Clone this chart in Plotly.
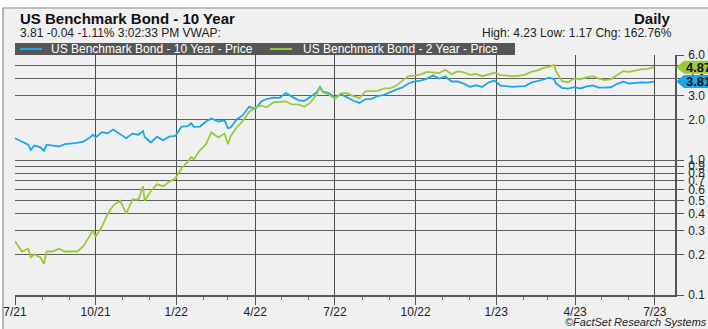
import math
import plotly.graph_objects as go

# Weekly closing yields (%), July 2021 - June 2023, with a few intraweek extremes
dates = [
    "2021-07-01", "2021-07-09", "2021-07-16", "2021-07-19", "2021-07-23", "2021-07-30",
    "2021-08-03", "2021-08-06", "2021-08-13", "2021-08-20", "2021-08-27",
    "2021-09-03", "2021-09-10", "2021-09-17", "2021-09-24", "2021-09-28",
    "2021-10-01", "2021-10-08", "2021-10-15", "2021-10-21", "2021-10-29",
    "2021-11-05", "2021-11-12", "2021-11-19", "2021-11-24", "2021-11-26",
    "2021-12-03", "2021-12-10", "2021-12-17", "2021-12-24", "2021-12-31",
    "2022-01-07", "2022-01-14", "2022-01-18", "2022-01-21", "2022-01-28",
    "2022-02-04", "2022-02-10", "2022-02-18", "2022-02-25", "2022-03-01",
    "2022-03-04", "2022-03-11", "2022-03-18", "2022-03-25", "2022-04-01",
    "2022-04-08", "2022-04-14", "2022-04-22", "2022-04-29", "2022-05-06",
    "2022-05-13", "2022-05-20", "2022-05-27", "2022-06-03", "2022-06-10",
    "2022-06-14", "2022-06-17", "2022-06-24", "2022-07-01", "2022-07-08",
    "2022-07-15", "2022-07-22", "2022-07-29", "2022-08-05", "2022-08-12",
    "2022-08-19", "2022-08-26", "2022-09-02", "2022-09-09", "2022-09-16",
    "2022-09-23", "2022-09-30", "2022-10-07", "2022-10-14", "2022-10-21",
    "2022-10-28", "2022-11-04", "2022-11-11", "2022-11-18", "2022-11-25",
    "2022-12-02", "2022-12-09", "2022-12-16", "2022-12-23", "2022-12-30",
    "2023-01-06", "2023-01-13", "2023-01-20", "2023-01-27", "2023-02-03",
    "2023-02-10", "2023-02-17", "2023-02-24", "2023-03-02", "2023-03-08",
    "2023-03-10", "2023-03-17", "2023-03-24", "2023-03-31", "2023-04-07",
    "2023-04-14", "2023-04-21", "2023-04-28", "2023-05-05", "2023-05-12",
    "2023-05-19", "2023-05-26", "2023-06-02", "2023-06-09", "2023-06-16",
    "2023-06-23", "2023-06-30",
]

ten_year = [
    1.45, 1.36, 1.30, 1.19, 1.28, 1.24,
    1.17, 1.30, 1.28, 1.26, 1.31,
    1.32, 1.34, 1.37, 1.46, 1.54,
    1.47, 1.61, 1.58, 1.68, 1.55,
    1.45, 1.57, 1.54, 1.64, 1.48,
    1.35, 1.49, 1.40, 1.49, 1.51,
    1.77, 1.78, 1.87, 1.76, 1.77,
    1.93, 2.03, 1.93, 1.97, 1.72,
    1.74, 2.00, 2.15, 2.48, 2.39,
    2.72, 2.83, 2.90, 2.89, 3.13,
    2.93, 2.78, 2.74, 2.94, 3.16,
    3.48, 3.23, 3.13, 2.89, 3.08,
    2.92, 2.75, 2.65, 2.83, 2.84,
    2.98, 3.04, 3.19, 3.32, 3.45,
    3.69, 3.83, 3.88, 4.01, 4.23,
    4.01, 4.16, 3.82, 3.83, 3.68,
    3.49, 3.58, 3.48, 3.75, 3.88,
    3.56, 3.51, 3.48, 3.51, 3.53,
    3.74, 3.82, 3.95, 4.07, 3.98,
    3.70, 3.43, 3.38, 3.47, 3.39,
    3.51, 3.57, 3.44, 3.44, 3.46,
    3.67, 3.80, 3.69, 3.74, 3.76,
    3.74, 3.81,
]

two_year = [
    0.25, 0.21, 0.22, 0.19, 0.20, 0.19,
    0.17, 0.21, 0.21, 0.22, 0.21,
    0.21, 0.21, 0.23, 0.27, 0.30,
    0.27, 0.32, 0.40, 0.46, 0.50,
    0.40, 0.51, 0.51, 0.64, 0.50,
    0.59, 0.66, 0.64, 0.69, 0.73,
    0.87, 0.97, 1.05, 1.01, 1.18,
    1.31, 1.60, 1.47, 1.57, 1.31,
    1.50, 1.75, 1.95, 2.27, 2.44,
    2.53, 2.46, 2.68, 2.71, 2.72,
    2.58, 2.58, 2.48, 2.66, 3.06,
    3.43, 3.18, 3.06, 2.84, 3.12,
    3.13, 2.97, 2.88, 3.24, 3.24,
    3.25, 3.39, 3.39, 3.56, 3.87,
    4.20, 4.22, 4.31, 4.50, 4.48,
    4.41, 4.66, 4.33, 4.53, 4.47,
    4.28, 4.34, 4.18, 4.31, 4.43,
    4.25, 4.22, 4.18, 4.21, 4.29,
    4.50, 4.62, 4.81, 4.89, 5.07,
    4.59, 3.84, 3.77, 4.03, 3.97,
    4.09, 4.18, 4.01, 3.91, 3.98,
    4.28, 4.56, 4.50, 4.60, 4.72,
    4.74, 4.87,
]

x_tick_vals = ["2021-07-01", "2021-10-01", "2022-01-01", "2022-04-01", "2022-07-01",
               "2022-10-01", "2023-01-01", "2023-04-01", "2023-07-01"]
x_tick_text = ["7/21", "10/21", "1/22", "4/22", "7/22", "10/22", "1/23", "4/23", "7/23"]
y_tick_vals = [0.1, 0.2, 0.3, 0.4, 0.5, 0.6, 0.7, 0.8, 0.9, 1.0, 2.0, 3.0, 4.0, 5.0, 6.0]
y_tick_text = [f"{v:.1f}" for v in y_tick_vals]

series_names = ["US Benchmark Bond - 10 Year - Price", "US Benchmark Bond - 2 Year - Price"]
last_values = [ten_year[-1], two_year[-1]]

BLUE = "#1aa7e8"
GREEN = "#9cc93a"
FONT = "Liberation Sans, Arial, sans-serif"

W, H = 708, 329
ML, MR, MT, MB = 15, 33, 55, 34
PW, PH = W - ML - MR, H - MT - MB


def px(x):
    return (x - ML) / PW


def py(y):
    return (H - MB - y) / PH


fig = go.Figure()
fig.add_trace(go.Scatter(x=dates, y=ten_year, mode="lines", name=series_names[0],
                         line=dict(color=BLUE, width=1.8), showlegend=False))
fig.add_trace(go.Scatter(x=dates, y=two_year, mode="lines", name=series_names[1],
                         line=dict(color=GREEN, width=1.8), showlegend=False))

shapes = []
# outer panel frame
shapes.append(dict(type="rect", xref="paper", yref="paper", x0=px(3), x1=px(740),
                   y0=py(340), y1=py(8), line=dict(color="#8a8a8a", width=1.2),
                   fillcolor="#f0f0f0", layer="below"))
# legend bar
shapes.append(dict(type="rect", xref="paper", yref="paper", x0=px(15), x1=px(515),
                   y0=py(55), y1=py(43), line=dict(width=0), fillcolor="#565656",
                   layer="above"))
for (x0, x1), color in [((20, 42), BLUE), ((270, 292), GREEN)]:
    shapes.append(dict(type="line", xref="paper", yref="paper", x0=px(x0), x1=px(x1),
                       y0=py(49), y1=py(49), line=dict(color=color, width=2),
                       layer="above"))
# last-value price tags on the right axis
for val, color in zip(last_values, [BLUE, GREEN]):
    shapes.append(dict(type="path", xref="paper", yref="y", xsizemode="pixel",
                       ysizemode="pixel", xanchor=1, yanchor=val,
                       path="M1,0 L9,6.5 L60,6.5 L60,-6.5 L9,-6.5 Z",
                       fillcolor=color, line=dict(width=0), layer="above"))

annotations = [
    dict(text="<b>US Benchmark Bond - 10 Year</b>", x=px(18), y=py(18), xanchor="left",
         yanchor="middle", font=dict(size=15, color="#111")),
    dict(text="3.81 -0.04 -1.11% 3:02:33 PM VWAP:", x=px(18), y=py(33), xanchor="left",
         yanchor="middle", font=dict(size=12, color="#222")),
    dict(text="<b>Daily</b>", x=px(673), y=py(18), xanchor="right", yanchor="middle",
         font=dict(size=15, color="#111")),
    dict(text="High: 4.23 Low: 1.17 Chg: 162.76%", x=px(674), y=py(33), xanchor="right",
         yanchor="middle", font=dict(size=12, color="#222")),
    dict(text=series_names[0], x=px(49), y=py(49), xanchor="left", yanchor="middle",
         font=dict(size=12, color="#ffffff")),
    dict(text=series_names[1], x=px(301), y=py(49), xanchor="left", yanchor="middle",
         font=dict(size=12, color="#ffffff")),
    dict(text="<i>©FactSet Research Systems</i>", x=px(563), y=py(322), xanchor="left",
         yanchor="middle", font=dict(size=11, color="#222")),
]
for a in annotations:
    a.update(xref="paper", yref="paper", showarrow=False)
for val in last_values:
    annotations.append(dict(text=f"<b>{val:.2f}</b>", xref="paper", yref="y", x=1,
                            y=math.log10(val), xanchor="left", yanchor="middle",
                            xshift=9, showarrow=False, font=dict(size=13, color="#111")))

fig.update_layout(
    width=W, height=H,
    margin=dict(l=ML, r=MR, t=MT, b=MB, pad=0, autoexpand=False),
    paper_bgcolor="#ffffff", plot_bgcolor="#f0f0f0",
    font=dict(family=FONT, size=12, color="#222"),
    shapes=shapes, annotations=annotations, showlegend=False,
    xaxis=dict(
        type="date", range=["2021-07-01", "2023-07-24"], automargin=False,
        tickvals=x_tick_vals, ticktext=x_tick_text,
        showgrid=True, gridcolor="#4d4d4d", gridwidth=1.3,
        showline=True, linecolor="#555", linewidth=1.5,
        ticks="outside", ticklen=8, tickcolor="#555", tickwidth=1.3,
        ticklabelstandoff=-3,
        tickfont=dict(size=12, color="#222"),
        minor=dict(dtick="M1", tick0="2021-07-01", ticks="outside", ticklen=3,
                   tickcolor="#777", showgrid=False),
        zeroline=False, fixedrange=True,
    ),
    yaxis=dict(
        type="log", range=[math.log10(0.1), math.log10(6.0)], side="right",
        automargin=False,
        tickvals=y_tick_vals, ticktext=y_tick_text,
        showgrid=True, gridcolor="#5e5e5e", gridwidth=1,
        showline=True, linecolor="#555", linewidth=1.5,
        ticks="outside", ticklen=7, tickcolor="#555", ticklabelstandoff=2,
        tickfont=dict(size=12, color="#222"),
        zeroline=False, fixedrange=True,
    ),
)

fig.write_html("out.html")
